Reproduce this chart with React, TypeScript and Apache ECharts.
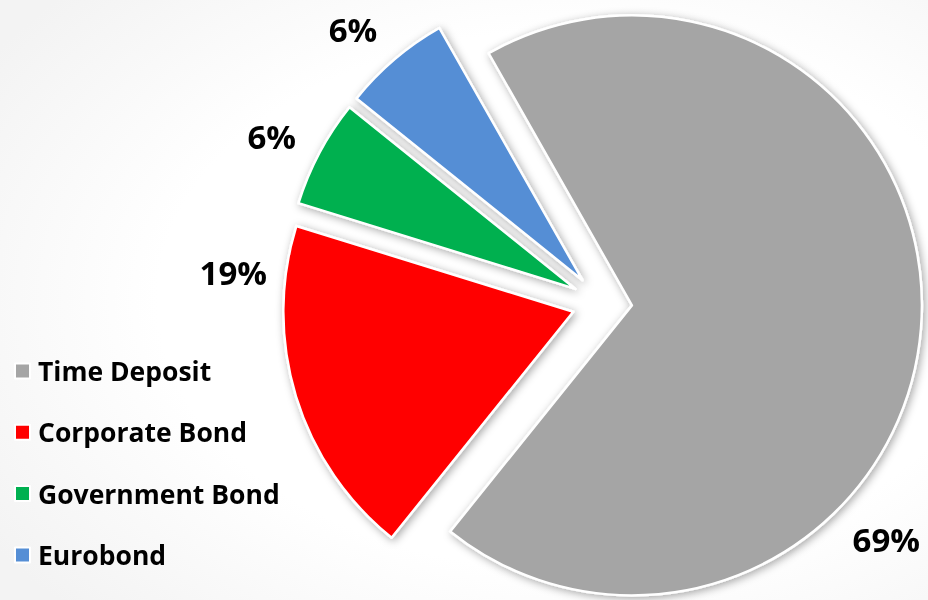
import React, { useEffect, useRef } from "react";
import * as echarts from "echarts";

const categories = ["Time Deposit", "Corporate Bond", "Government Bond", "Eurobond"];
const shares = [69, 19, 6, 6];
const colors = ["#A5A5A5", "#FF0000", "#00B050", "#558ED5"];

export default function App() {
  const ref = useRef<HTMLDivElement>(null);
  useEffect(() => {
    if (!ref.current) return;
    const chart = echarts.init(ref.current, undefined, { renderer: "svg" });
    const cx = 602;
    const cy = 303;
    const R = 290;
    const startAngle = 119.6;
    // label placement (clockwise from 12 o'clock, degrees) like Excel's best fit
    const labelAngles = [129.8, 274.8, 296.8, 317.7];
    const labelDist = 370;
    const font = "'Open Sans', 'Noto Sans', sans-serif";
    chart.setOption({
      animation: false,
      backgroundColor: {
        type: "radial",
        x: 0.62,
        y: 0.5,
        r: 0.75,
        colorStops: [
          { offset: 0, color: "#ffffff" },
          { offset: 0.6, color: "#ffffff" },
          { offset: 1, color: "#f3f3f3" },
        ],
      },
      legend: {
        orient: "vertical",
        left: 14,
        top: 356,
        padding: 0,
        itemWidth: 15,
        itemHeight: 15,
        itemGap: 31.3,
        icon: "rect",
        selectedMode: false,
        textStyle: {
          fontFamily: font,
          fontWeight: "bold",
          fontSize: 26.5,
          color: "#000",
          lineHeight: 30,
          padding: [0, 0, 0, 3],
        },
        data: categories,
      },
      series: [
        {
          type: "pie",
          center: [cx, cy],
          radius: R,
          startAngle,
          clockwise: true,
          selectedMode: "multiple",
          selectedOffset: 30,
          avoidLabelOverlap: false,
          emphasis: { disabled: true },
          itemStyle: {
            borderColor: "#ffffff",
            borderWidth: 2.5,
            shadowBlur: 8,
            shadowColor: "rgba(0,0,0,0.35)",
            shadowOffsetX: 2,
            shadowOffsetY: 2,
          },
          label: { show: false },
          labelLine: { show: false },
          data: categories.map((name, i) => ({
            name,
            value: shares[i],
            selected: true,
            itemStyle: { color: colors[i] },
          })),
        },
        {
          // label carrier: same data, invisible sectors, labels placed like Excel's best fit
          type: "pie",
          center: [cx, cy],
          radius: R,
          startAngle,
          clockwise: true,
          silent: true,
          selectedMode: false,
          avoidLabelOverlap: false,
          emphasis: { disabled: true },
          itemStyle: { color: "rgba(0,0,0,0)", borderWidth: 0 },
          label: {
            show: true,
            position: "outside",
            formatter: "{c}%",
            fontFamily: font,
            fontWeight: "bold",
            fontSize: 33,
            color: "#000",
          },
          labelLine: { show: false },
          labelLayout: (p: any) => {
            const a = (labelAngles[p.dataIndex] * Math.PI) / 180;
            return {
              x: cx + labelDist * Math.sin(a),
              y: cy - labelDist * Math.cos(a),
              align: "center",
              verticalAlign: "middle",
            };
          },
          data: categories.map((name, i) => ({ name, value: shares[i] })),
        },
      ],
    });
    return () => chart.dispose();
  }, []);
  return (
    <div
      ref={ref}
      style={{ position: "fixed", left: 0, top: 0, width: 928, height: 600 }}
    />
  );
}
